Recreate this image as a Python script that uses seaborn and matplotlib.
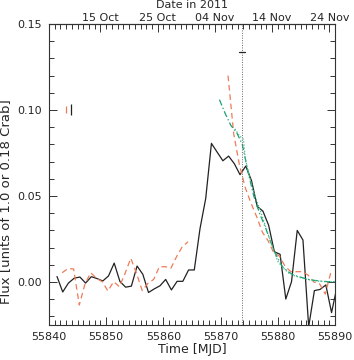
import numpy as np
import pandas as pd
import seaborn as sns
import matplotlib
matplotlib.use("Agg")
import matplotlib.pyplot as plt
from matplotlib.ticker import MultipleLocator, FormatStrFormatter

# light curve 1 (black, solid)
black_t = [55841.4 + k for k in range(50)]
black_f = [0.0032, -0.0058, -0.0006, 0.0022, 0.0029, -0.0006, 0.0031, 0.0020, 0.0006, 0.0035,
           0.0110, 0.0003, -0.0030, -0.0024, 0.0093, 0.0045, -0.0061, -0.0040, -0.0022, 0.0015,
           -0.0046, 0.0004, 0.0004, 0.0070, 0.0070, 0.0310, 0.0486, 0.0806, 0.0755, 0.0705,
           0.0732, 0.0688, 0.0624, 0.0674, 0.0590, 0.0440, 0.0412, 0.0330, 0.0176, 0.0161,
           -0.0099, 0.0002, 0.0300, 0.0244, -0.0260, -0.0050, -0.0043, -0.0017, -0.0178, -0.0020]

# light curve 2 (orange, dashed) - two pieces with a gap
orange_t1 = [55842.3 + k for k in range(23)]
orange_f1 = [0.0054, 0.0078, 0.0076, -0.0134, -0.0010, 0.0054, 0.0021, 0.0002, -0.0052, 0.0002,
             -0.0027, 0.0050, 0.0138, 0.0050, -0.0050, -0.0008, 0.0015, 0.0089, 0.0089, 0.0080,
             0.0147, 0.0205, 0.0234]
orange_t2 = [55871.3 + k for k in range(19)]
orange_f2 = [0.1200, 0.0860, 0.0680, 0.0550, 0.0460, 0.0380, 0.0290, 0.0240, 0.0170, 0.0150,
             0.0090, 0.0060, 0.0060, 0.0060, 0.0040, 0.0000, -0.0010, -0.0070, 0.0060]

# decay models (green)
model1_t = [55869.8 + k for k in range(21)]
model1_f = [0.106, 0.098, 0.091, 0.087, 0.080, 0.064, 0.050, 0.040, 0.032, 0.023,
            0.015, 0.009, 0.006, 0.004, 0.003, 0.002, 0.0012, 0.0008, 0.0004, 0.0002, 0.0002]
model2_t = [55872.5, 55873.3, 55874.0, 55874.3, 55875.0, 55876.0, 55877.0, 55878.0, 55879.0,
            55880.0, 55881.0, 55882.0, 55883.0, 55884.0, 55885.0, 55886.0, 55887.0, 55888.0,
            55889.0, 55890.0]
model2_f = [0.089, 0.085, 0.083, 0.072, 0.062, 0.050, 0.041, 0.031, 0.021, 0.012,
            0.008, 0.005, 0.0035, 0.0025, 0.0016, 0.0010, 0.0006, 0.0003, 0.0002, 0.0002]

date_ticks = [55849, 55859, 55869, 55879, 55889]
date_labels = ["15 Oct", "25 Oct", "04 Nov", "14 Nov", "24 Nov"]
t_event = 55873.7
marker_f = 0.1336
err_t = [55843.0, 55843.85]
err_f = [0.1002, 0.1002]
err_size = [0.0020, 0.0032]

sns.set_style("ticks")
plt.rcParams['font.family'] = ['DejaVu Sans']
plt.rcParams['font.size'] = 8

fig = plt.figure(figsize=(3.54, 3.60), dpi=100)
ax = fig.add_axes([0.1384, 0.0972, 0.8079, 0.8361])

orange = "#ef7b58"
green = "#1c9f73"
green2 = "#3dbb88"
dark = "#222222"

sns.lineplot(x=black_t, y=black_f, ax=ax, color=dark, lw=0.9, sort=False, estimator=None)
sns.lineplot(x=orange_t1, y=orange_f1, ax=ax, color=orange, lw=0.9, sort=False, estimator=None)
sns.lineplot(x=orange_t2, y=orange_f2, ax=ax, color=orange, lw=0.9, sort=False, estimator=None)
sns.lineplot(x=model1_t, y=model1_f, ax=ax, color=green, lw=0.9, sort=False, estimator=None)
sns.lineplot(x=model2_t, y=model2_f, ax=ax, color=green2, lw=0.9, sort=False, estimator=None)
lines = ax.get_lines()
lines[1].set_dashes((4.5, 3))
lines[2].set_dashes((4.5, 3))
lines[3].set_dashes((5, 2, 1, 2))
lines[4].set_dashes((1, 1.5))

ax.axvline(t_event, color="#666666", lw=0.7, ls=(0, (1, 1.5)))
ax.plot([t_event - 0.5, t_event + 0.5], [marker_f, marker_f], color=dark, lw=0.9)
ax.errorbar(err_t[0], err_f[0], yerr=err_size[0], color=orange, lw=0.9, capsize=0)
ax.errorbar(err_t[1], err_f[1], yerr=err_size[1], color=dark, lw=0.9, capsize=0)

ax.set_xlim(55840, 55890)
ax.set_ylim(-0.025, 0.15)
ax.xaxis.set_major_locator(MultipleLocator(10))
ax.xaxis.set_minor_locator(MultipleLocator(1))
ax.xaxis.set_major_formatter(FormatStrFormatter("%d"))
ax.yaxis.set_major_locator(MultipleLocator(0.05))
ax.yaxis.set_minor_locator(MultipleLocator(0.01))
ax.yaxis.set_major_formatter(FormatStrFormatter("%.2f"))
ax.tick_params(which="both", direction="in", right=True, top=False, color="#333333", width=0.7)
ax.tick_params(which="major", length=6, labelsize=8, pad=5)
ax.tick_params(which="minor", length=3.5)
for s in ax.spines.values():
    s.set_linewidth(0.8)
    s.set_color("#333333")

ax.set_xlabel("Time [MJD]", fontsize=9, labelpad=1)
ax.set_ylabel("Flux [units of 1.0 or 0.18 Crab]", fontsize=9.5)
ax.yaxis.set_label_coords(-0.13, 0.41)

top = ax.secondary_xaxis("top")
top.set_xticks(date_ticks)
top.set_xticklabels(date_labels)
top.xaxis.set_minor_locator(MultipleLocator(1))
top.tick_params(which="both", direction="in", color="#333333", width=0.7)
top.tick_params(which="major", length=6, labelsize=8, pad=0.5)
top.tick_params(which="minor", length=3.5)
fig.text(0.542, 0.999, "Date in 2011", ha="center", va="top", fontsize=8)

fig.savefig("out.png", dpi=100)
